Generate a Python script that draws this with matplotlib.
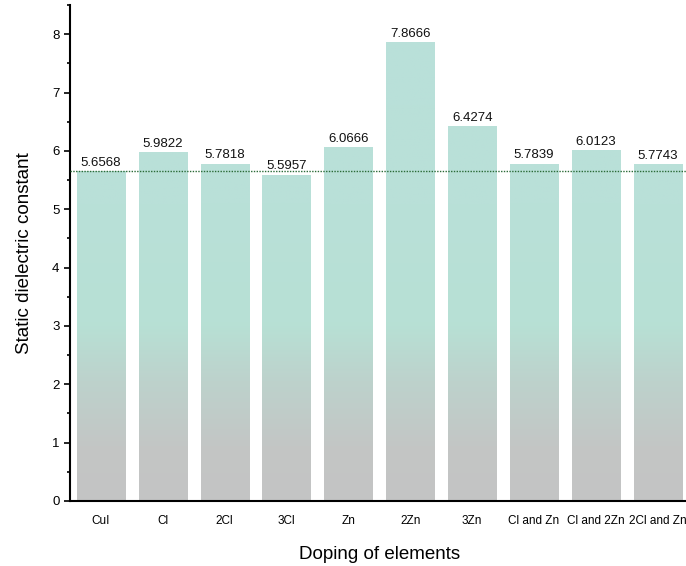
import matplotlib

matplotlib.use("Agg")
import matplotlib.pyplot as plt
import numpy as np
from matplotlib.colors import LinearSegmentedColormap
from matplotlib.ticker import MultipleLocator

plt.rcParams["font.family"] = ["Liberation Sans", "DejaVu Sans"]

categories = ["CuI", "Cl", "2Cl", "3Cl", "Zn", "2Zn", "3Zn",
              "Cl and Zn", "Cl and 2Zn", "2Cl and Zn"]
values = [5.6568, 5.9822, 5.7818, 5.5957, 6.0666, 7.8666, 6.4274,
          5.7839, 6.0123, 5.7743]
labels = ["5.6568", "5.9822", "5.7818", "5.5957", "6.0666", "7.8666",
          "6.4274", "5.7839", "6.0123", "5.7743"]
baseline = 5.6568

fig = plt.figure(figsize=(6.86, 5.66), dpi=100)
ax = fig.add_axes([0.102, 0.115, 0.902, 0.876])

x = np.arange(len(categories))
bars = ax.bar(x, values, width=0.78, color="none", edgecolor="none", zorder=2)

# vertical gradient (grey at bottom -> mint at top), clipped to each bar
cmap = LinearSegmentedColormap.from_list(
    "grad", [(0.0, "#c4c4c4"), (0.11, "#c3c6c5"), (0.24, "#bdd2cc"),
             (0.36, "#b7e1d5"), (0.6, "#b9e0d8"), (1.0, "#b9e0da")])
grad = np.linspace(0, 1, 256).reshape(-1, 1)
for bar in bars:
    im = ax.imshow(grad, cmap=cmap, origin="lower", aspect="auto",
                   extent=[bar.get_x(), bar.get_x() + bar.get_width(), 0, 8.5],
                   zorder=2)
    im.set_clip_path(bar)

for xi, v, lab in zip(x, values, labels):
    ax.text(xi, v + 0.04, lab, ha="center", va="bottom", fontsize=9.5, color="#111111")

ax.axhline(baseline, color="#2a6a36", lw=1.0, ls=(0, (1, 1)), zorder=3)

ax.set_xlim(-0.5, 9.5)
ax.set_ylim(0, 8.5)
ax.set_xticks(x)
ax.set_xticklabels(categories, fontsize=8.5)
ax.tick_params(axis="x", length=0, pad=10)
ax.yaxis.set_major_locator(MultipleLocator(1))
ax.yaxis.set_minor_locator(MultipleLocator(0.5))
ax.tick_params(axis="y", which="major", length=4, width=1.2, labelsize=9.5)
ax.tick_params(axis="y", which="minor", length=2.5, width=1.2)
for side in ("top", "right"):
    ax.spines[side].set_visible(False)
ax.spines["left"].set_linewidth(1.5)
ax.spines["bottom"].set_linewidth(1.5)

ax.set_xlabel("Doping of elements", fontsize=13.5, labelpad=14)
ax.set_ylabel("Static dielectric constant", fontsize=13.5, labelpad=14)

fig.savefig("out.png", dpi=100)
